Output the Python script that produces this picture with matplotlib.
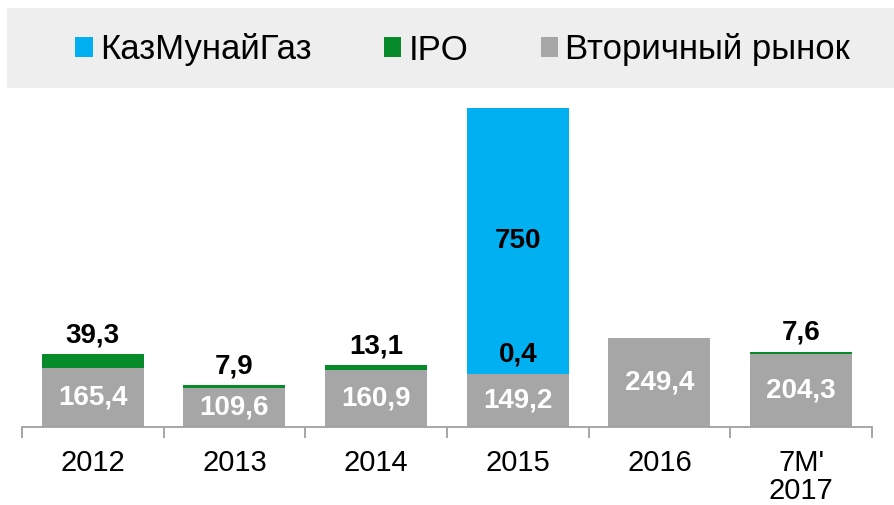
import numpy as np
import matplotlib
matplotlib.use("Agg")
import matplotlib.pyplot as plt
from matplotlib.patches import Rectangle

plt.rcParams['font.family'] = ['Liberation Sans', 'DejaVu Sans']

# data
years = ["2012", "2013", "2014", "2015", "2016", "7M'\n2017"]
secondary = [165.4, 109.6, 160.9, 149.2, 249.4, 204.3]
ipo = [39.3, 7.9, 13.1, 0.4, 0.0, 7.6]
kmg = [0, 0, 0, 750, 0, 0]
ipo_labels = ["39,3", "7,9", "13,1", "0,4", "", "7,6"]
sec_labels = ["165,4", "109,6", "160,9", "149,2", "249,4", "204,3"]

c_kmg = '#00B0F0'
c_ipo = '#078A2A'
c_sec = '#A6A6A6'

fig = plt.figure(figsize=(8.95, 5.05), dpi=100)
# legend band
fig.patches.append(Rectangle((7/895, 1-88/505), 1, 80/505, transform=fig.transFigure,
                             facecolor='#EEEEEE', edgecolor='none', zorder=0))

ax = fig.add_axes([22/895, 1-426.5/505, 850/895, 326.5/505])
x = np.arange(len(years))
w = 0.72
sec = np.array(secondary)
ip = np.array(ipo)
b1 = ax.bar(x, sec, w, color=c_sec, label='Вторичный рынок')
b2 = ax.bar(x, ip, w, bottom=sec, color=c_ipo, label='IPO')
b3 = ax.bar(x, kmg, w, bottom=sec + ip, color=c_kmg, label='КазМунайГаз')

for i in range(len(years)):
    ax.text(x[i], sec[i] / 2, sec_labels[i], ha='center', va='center',
            color='white', fontsize=20, fontweight='bold')
    if ipo_labels[i] and kmg[i] == 0:
        ax.annotate(ipo_labels[i], (x[i], sec[i] + ip[i]), xytext=(0, 4),
                    textcoords='offset points', ha='center', va='bottom',
                    fontsize=20, fontweight='bold')
# 2015 labels inside blue bar
ax.annotate(ipo_labels[3], (x[3], sec[3] + ip[3]), xytext=(0, 14),
            textcoords='offset points', ha='center', va='center',
            fontsize=20, fontweight='bold')
ax.text(x[3], sec[3] + ip[3] + kmg[3] / 2, "750", ha='center', va='center',
        fontsize=20, fontweight='bold')

ax.set_xlim(-0.5, len(years) - 0.5)
ax.set_ylim(0, 923)
ax.set_yticks([])
for s in ['top', 'right', 'left']:
    ax.spines[s].set_visible(False)
ax.spines['bottom'].set_color('#A0A0A0')
ax.spines['bottom'].set_linewidth(1.3)
ax.set_xticks(x)
ax.set_xticklabels(years, fontsize=21, linespacing=1.0)
ax.tick_params(axis='x', which='major', length=0, pad=16)
ax.set_xticks(np.arange(-0.5, len(years)), minor=True)
ax.tick_params(axis='x', which='minor', length=8, width=1.3, color='#A0A0A0', direction='out')

fig.legend(handles=[b3, b2, b1], loc='center', bbox_to_anchor=(0.517, 1-50/505),
           ncol=3, frameon=False, fontsize=25, handlelength=0.5, handleheight=0.5,
           handletextpad=0.2, columnspacing=2.1)

fig.savefig("out.png", dpi=100)
